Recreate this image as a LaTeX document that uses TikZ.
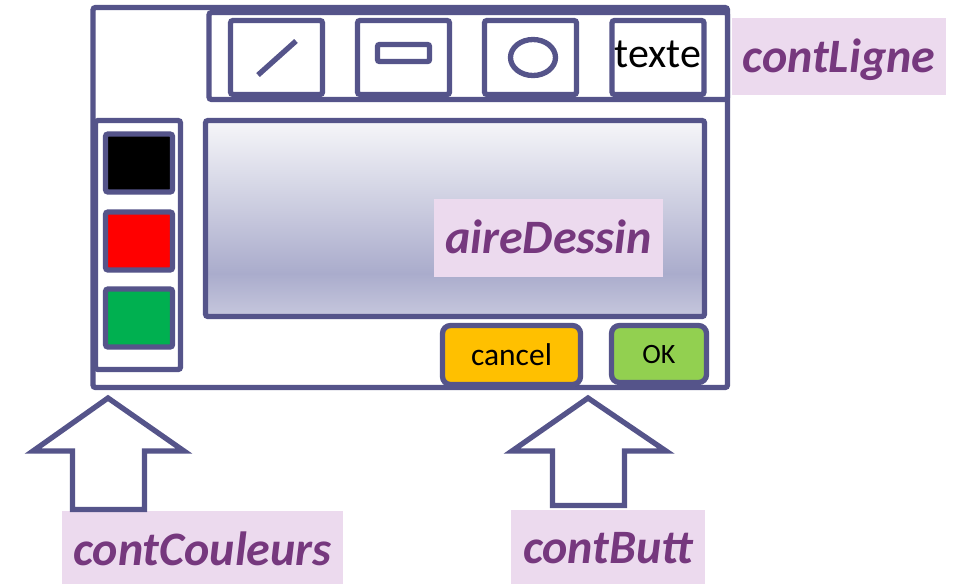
\documentclass[tikz,border=0pt]{standalone}
\usepackage{fontspec}
\setmainfont{Carlito}
\usetikzlibrary{shadows,shapes.geometric}
\definecolor{frameC}{RGB}{85,84,138}
\definecolor{pinkC}{RGB}{236,218,238}
\definecolor{labC}{RGB}{118,56,126}
\definecolor{aTop}{RGB}{246,246,249}
\definecolor{aMid}{RGB}{170,172,204}
\definecolor{aBot}{RGB}{198,199,221}
\definecolor{cancelC}{RGB}{255,192,0}
\definecolor{okC}{RGB}{146,208,80}
\definecolor{redC}{RGB}{255,0,0}
\definecolor{greenC}{RGB}{0,176,80}
\pgfdeclareverticalshading{aireShade}{100bp}{color(0bp)=(aBot); color(25bp)=(aBot); color(36bp)=(aMid); color(75bp)=(aTop); color(100bp)=(aTop)}
\tikzset{
  shad/.style={drop shadow={shadow xshift=1.5pt, shadow yshift=-2pt, opacity=0.22, fill=black}},
  box/.style={draw=frameC, line width=5.3pt, rounded corners=2.5pt, fill=white, inner sep=0pt, shad},
  swatch/.style={box, minimum width=67pt, minimum height=58pt},
  toolbtn/.style={box, minimum width=92pt, minimum height=74pt},
  btn/.style={box, rounded corners=8pt, text=black, font=\fontsize{31.5}{35}\selectfont},
  lab/.style={fill=pinkC, inner sep=0pt, text=labC, font=\fontsize{48}{52}\selectfont\bfseries\itshape, text height=40pt, text depth=8pt},
  icon/.style={draw=frameC, line width=5.3pt, shad},
  bigarrow/.style={draw=frameC, line width=5.3pt, fill=white, line join=miter, shad}
}
\begin{document}
\begin{tikzpicture}[x=1pt,y=-1pt]
\useasboundingbox (0,0) rectangle (954,584);
% outer window
\node[box, minimum width=634.5pt, minimum height=380pt] (win) at (410.25,197.5) {};
% toolbar
\node[box, minimum width=518.5pt, minimum height=87pt] (contLigne) at (468.25,56) {};
\node[toolbtn] (bLine) at (276.5,57.5) {};
\node[toolbtn] (bRect) at (403.5,57.5) {};
\node[toolbtn] (bEll) at (530.5,57.5) {};
\node[toolbtn, text=black, font=\fontsize{42}{46}\selectfont, text height=26pt, text depth=6pt] (bText) at (658,57.5) {texte};
% icons
\coordinate (lA) at (258,75);
\coordinate (lB) at (296,41);
\draw[icon] (lA) -- (lB);
\node[icon, fill=white, rounded corners=2pt, minimum width=52pt, minimum height=17pt, inner sep=0pt] (iRect) at (403.5,53) {};
\node[icon, fill=white, ellipse, minimum width=45pt, minimum height=36pt, inner sep=0pt] (iEll) at (533,57.5) {};
% palette
\node[box, minimum width=85pt, minimum height=249pt] (contCouleurs) at (138,245) {};
\node[swatch, fill=black] (cBlack) at (139,163) {};
\node[swatch, fill=redC] (cRed) at (139,241) {};
\node[swatch, fill=greenC] (cGreen) at (139,318) {};
% drawing area
\node[box, shading=aireShade, minimum width=499pt, minimum height=196pt] (aire) at (455,218.5) {};
% buttons
\node[btn, fill=cancelC, minimum width=138pt, minimum height=59pt, text height=22pt, text depth=2pt] (bCancel) at (511.5,355) {cancel};
\node[btn, fill=okC, minimum width=95pt, minimum height=57pt, font=\fontsize{28}{32}\selectfont, text height=19pt, text depth=1pt] (bOK) at (659,354) {OK};
% labels
\node[lab, minimum width=214pt, minimum height=77pt, text height=40pt, text depth=8pt] (lLigne) at (839,56.5) {contLigne};
\node[lab, minimum width=229pt, minimum height=78pt, text height=39pt, text depth=8pt] (lAire) at (548.5,238) {aireDessin};
\node[lab, minimum width=281pt, minimum height=73pt, text height=43pt, text depth=8pt] (lCoul) at (202.5,547.5) {contCouleurs};
\node[lab, minimum width=194pt, minimum height=74pt, text height=40pt, text depth=8pt] (lButt) at (608,547) {contButt};
% big arrows
\coordinate (tipL) at (108,398);
\coordinate (tipR) at (588,398);
\draw[bigarrow] (tipL) -- (184,451) -- (144.5,451) -- (144.5,509.5) -- (72.5,509.5) -- (72.5,451) -- (33,451) -- cycle;
\draw[bigarrow] (tipR) -- (666,451) -- (624.5,451) -- (624.5,505.5) -- (552.5,505.5) -- (552.5,451) -- (512,451) -- cycle;
\end{tikzpicture}
\end{document}
